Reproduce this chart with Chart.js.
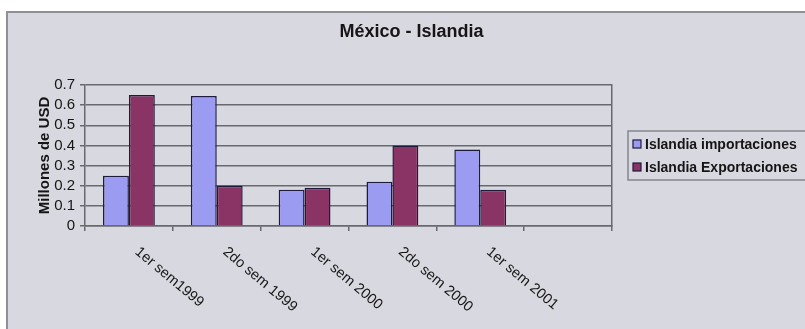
<!DOCTYPE html>
<html>
<head>
<meta charset="utf-8">
<title>México - Islandia</title>
<script src="https://cdn.jsdelivr.net/npm/chart.js@4/dist/chart.umd.min.js"></script>
<style>
    html, body { margin: 0; padding: 0; background: #fff; overflow: hidden; }
    .marco { position: absolute; left: 6px; top: 11px; width: 830px; height: 340px; background: #d8d8e0; border: 2px solid #8f8f97; }
    #grafica { position: absolute; left: 0; top: 0; }
</style>
</head>
<body>
<div class="marco"></div>
<canvas id="grafica" width="805" height="329"></canvas>
<script>
// Semestres (la última categoría queda vacía)
const periodos = ['1er sem1999', '2do sem 1999', '1er sem 2000', '2do sem 2000', '1er sem 2001', ''];
const importaciones = [0.25, 0.645, 0.18, 0.22, 0.38, null];
const exportaciones = [0.65, 0.20, 0.19, 0.40, 0.18, null];
const marcasY = ['0', '0.1', '0.2', '0.3', '0.4', '0.5', '0.6', '0.7'];

const fuente = "'Liberation Sans', Arial, sans-serif";
const colorLinea = '#68686f';
const colorTexto = '#151515';

// etiquetas del eje X giradas hacia abajo a la derecha
const etiquetasX = {
    id: 'etiquetasX',
    afterDraw(chart) {
        const ctx = chart.ctx;
        const x = chart.scales.x;
        ctx.save();
        ctx.font = '14.5px ' + fuente;
        ctx.fillStyle = colorTexto;
        ctx.textAlign = 'left';
        ctx.textBaseline = 'middle';
        periodos.forEach((txt, i) => {
            if (!txt) return;
            ctx.save();
            ctx.translate(x.getPixelForValue(i) + 8, x.top + 24);
            ctx.rotate(40 * Math.PI / 180);
            ctx.fillText(txt, 0, 0);
            ctx.restore();
        });
        ctx.restore();
    }
};

// leyenda con recuadro a la derecha del área de trazado
const leyenda = {
    id: 'leyenda',
    afterDraw(chart) {
        const ctx = chart.ctx;
        const area = chart.chartArea;
        const izq = area.right + 16;
        const centro = (area.top + area.bottom) / 2;
        const paso = 23;
        const sets = chart.data.datasets;
        const y0 = centro - paso * (sets.length - 1) / 2;

        ctx.save();
        ctx.strokeStyle = '#85858c';
        ctx.lineWidth = 1.5;
        ctx.strokeRect(izq, y0 - 13, chart.width + 20 - izq, paso * (sets.length - 1) + 26);

        ctx.font = 'bold 14px ' + fuente;
        ctx.textAlign = 'left';
        ctx.textBaseline = 'middle';
        sets.forEach((ds, i) => {
            const y = y0 + i * paso;
            ctx.fillStyle = ds.backgroundColor;
            ctx.fillRect(izq + 5, y - 4, 8, 8);
            ctx.strokeStyle = ds.borderColor;
            ctx.lineWidth = 1.2;
            ctx.strokeRect(izq + 5, y - 4, 8, 8);
            ctx.fillStyle = colorTexto;
            ctx.fillText(ds.label, izq + 17, y + 1);
        });
        ctx.restore();
    }
};

new Chart(document.getElementById('grafica'), {
    type: 'bar',
    data: {
        labels: periodos,
        datasets: [{
            label: 'Islandia importaciones',
            data: importaciones,
            backgroundColor: '#9b9bf2',
            borderColor: '#1f1b3c',
            borderWidth: 1.5,
            barPercentage: 1,
            categoryPercentage: 0.59
        }, {
            label: 'Islandia Exportaciones',
            data: exportaciones,
            backgroundColor: '#8a3466',
            borderColor: '#1f1b3c',
            borderWidth: 1.5,
            barPercentage: 1,
            categoryPercentage: 0.59
        }]
    },
    options: {
        responsive: false,
        animation: false,
        layout: { padding: { left: 18, right: 0, top: 0, bottom: 0 } },
        plugins: {
            title: {
                display: true,
                text: 'México - Islandia',
                color: colorTexto,
                font: { family: fuente, size: 18, weight: 'bold' },
                padding: { top: 21.2, bottom: 42.2 }
            },
            legend: { display: false },
            tooltip: { enabled: false }
        },
        scales: {
            x: {
                grid: { display: true, drawOnChartArea: false, drawTicks: true, tickLength: 5, color: colorLinea, lineWidth: 1.5, offset: true },
                border: { display: true, color: colorLinea, width: 1.5 },
                ticks: { display: false },
                afterFit(s) { s.height = 103; }
            },
            y: {
                min: 0,
                max: 0.7,
                ticks: {
                    stepSize: 0.1,
                    autoSkip: false,
                    padding: 5,
                    color: colorTexto,
                    font: { family: fuente, size: 15 },
                    callback: (v, i) => marcasY[i]
                },
                grid: { color: colorLinea, lineWidth: 1.5, tickLength: 5 },
                border: { display: true, color: colorLinea, width: 1.5 },
                title: {
                    display: true,
                    text: 'Millones de USD',
                    color: colorTexto,
                    font: { family: fuente, size: 15, weight: 'bold' },
                    padding: { top: 18, bottom: 0 }
                },
                afterFit(s) { s.width = 67; }
            },
            // eje derecho sin marcas: cierra el área de trazado y deja sitio a la leyenda
            y2: {
                position: 'right',
                min: 0,
                max: 0.7,
                ticks: { display: false },
                grid: { display: false },
                border: { display: true, color: colorLinea, width: 1.5 },
                afterFit(s) { s.width = 193; }
            }
        }
    },
    plugins: [etiquetasX, leyenda]
});
</script>
</body>
</html>
